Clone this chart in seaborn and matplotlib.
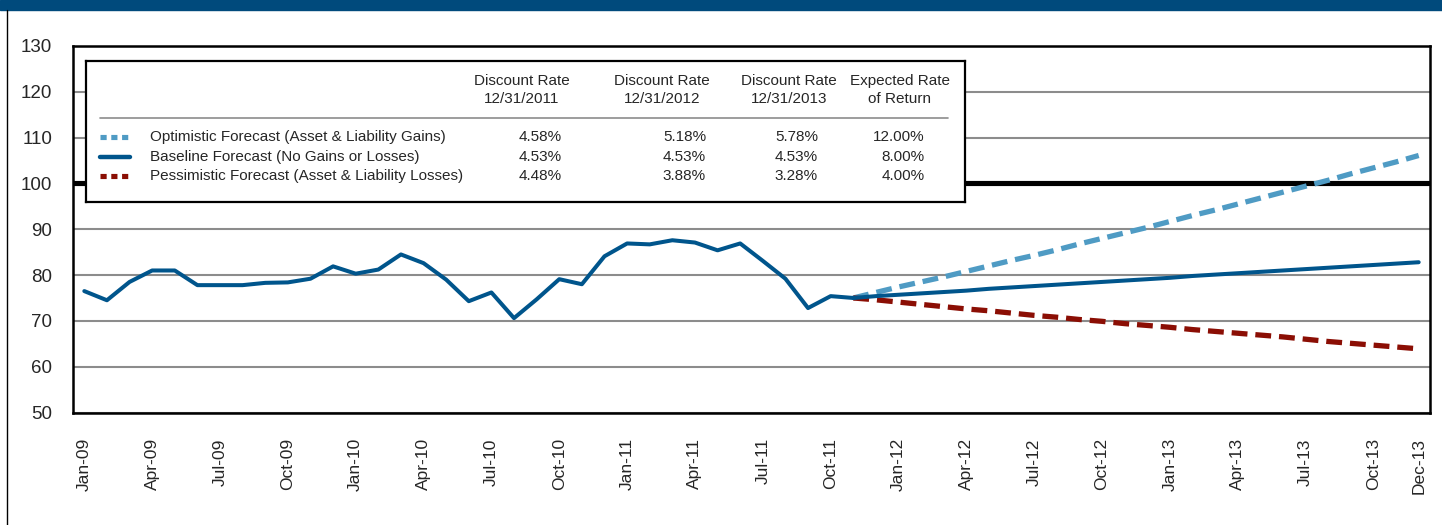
import numpy as np
import pandas as pd
import matplotlib
matplotlib.use("Agg")
import matplotlib.pyplot as plt
from matplotlib.lines import Line2D
from matplotlib.patches import Rectangle
import seaborn as sns

# ---- data ----
months = pd.date_range("2009-01-01", "2013-12-01", freq="MS")
month_labels = [m.strftime("%b-%y") for m in months]

# actual funded ratio, Jan-09 .. Nov-11
history = [76.5, 74.5, 78.5, 81.0, 81.0, 77.8, 77.8, 77.8, 78.3, 78.4, 79.2, 81.9,
           80.3, 81.2, 84.5, 82.6, 79.0, 74.3, 76.2, 70.6, 74.7, 79.1, 78.0, 84.1,
           86.9, 86.7, 87.6, 87.1, 85.4, 86.9, 83.1, 79.2, 72.8, 75.4, 75.0]

# forecasts, Nov-11 .. Dec-13
optimistic = [75.0, 76.2, 77.4, 78.5, 79.6, 80.8, 82.0, 83.2, 84.3, 85.5, 86.8, 88.0, 89.2,
              90.4, 91.7, 93.0, 94.2, 95.5, 96.8, 98.1, 99.4, 100.7, 102.1, 103.4, 104.7, 106.1]
baseline = [75.0, 75.4, 75.7, 76.0, 76.3, 76.6, 77.0, 77.3, 77.6, 77.9, 78.2, 78.5, 78.8,
            79.1, 79.4, 79.8, 80.1, 80.4, 80.7, 81.0, 81.3, 81.6, 81.9, 82.2, 82.5, 82.8]
pessimistic = [75.0, 74.6, 74.1, 73.6, 73.1, 72.6, 72.2, 71.7, 71.2, 70.8, 70.3, 69.9, 69.4,
               69.0, 68.6, 68.1, 67.7, 67.3, 66.9, 66.5, 66.0, 65.5, 65.1, 64.7, 64.3, 63.9]

tick_labels = ["Jan-09", "Apr-09", "Jul-09", "Oct-09", "Jan-10", "Apr-10", "Jul-10",
               "Oct-10", "Jan-11", "Apr-11", "Jul-11", "Oct-11", "Jan-12", "Apr-12",
               "Jul-12", "Oct-12", "Jan-13", "Apr-13", "Jul-13", "Oct-13", "Dec-13"]

series_names = ["Optimistic Forecast (Asset & Liability Gains)",
                "Baseline Forecast (No Gains or Losses)",
                "Pessimistic Forecast (Asset & Liability Losses)"]
table_headers = ["Discount Rate\n12/31/2011", "Discount Rate\n12/31/2012",
                 "Discount Rate\n12/31/2013", "Expected Rate\nof Return"]
table_values = [["4.58%", "5.18%", "5.78%", "12.00%"],
                ["4.53%", "4.53%", "4.53%", "8.00%"],
                ["4.48%", "3.88%", "3.28%", "4.00%"]]

NAVY = "#00558C"
LIGHT = "#4F9BC4"
RED = "#8B0E04"
BAR = "#004A7C"

# ---- frames ----
start = month_labels.index("Nov-11")
hist_df = pd.DataFrame({"t": np.arange(len(history)), "value": history})
fc_df = pd.concat([
    pd.DataFrame({"t": np.arange(start, start + len(vals)), "value": vals, "series": name})
    for name, vals in zip(series_names, [optimistic, baseline, pessimistic])
])

# ---- figure ----
sns.set_style("white")
plt.rcParams["font.family"] = ["Liberation Sans", "DejaVu Sans"]

W, H = 1442, 525
fig = plt.figure(figsize=(W / 100, H / 100), dpi=100)
ax = fig.add_axes([73 / W, 1 - 412.5 / H, (1430 - 73) / W, (412.5 - 46) / H])

styles = {series_names[0]: (LIGHT, 3.8, (3, 1.5)),
          series_names[2]: (RED, 3.8, (3, 1.5)),
          series_names[1]: (NAVY, 2.9, None)}
for name in [series_names[0], series_names[2], series_names[1]]:
    color, lw, dash = styles[name]
    sub = fc_df[fc_df["series"] == name]
    sns.lineplot(data=sub, x="t", y="value", color=color, linewidth=lw, ax=ax,
                 legend=False, zorder=4)
    if dash is not None:
        ax.lines[-1].set_dashes(dash)
        ax.lines[-1].set_dash_capstyle("butt")

sns.lineplot(data=hist_df, x="t", y="value", color=NAVY, linewidth=2.9, ax=ax,
             legend=False, zorder=5)

ax.set_xlim(-0.5, len(month_labels) - 0.5)
ax.set_ylim(50, 130)
ax.set_yticks(range(50, 131, 10))
ax.yaxis.grid(True, color="#8C8C8C", linewidth=1.5)
ax.set_axisbelow(True)
ax.axhline(100, color="black", linewidth=3.7, zorder=3)

tick_pos = [month_labels.index(lbl) for lbl in tick_labels]
ax.set_xticks(tick_pos)
ax.set_xticklabels(tick_labels, rotation=90)
ax.set_xlabel("")
ax.set_ylabel("")
ax.tick_params(axis="y", length=0, pad=15, labelsize=13.5)
ax.tick_params(axis="x", length=0, pad=18.5, labelsize=12.5)
for s in ax.spines.values():
    s.set_visible(True)
    s.set_color("black")
    s.set_linewidth(1.8)

# ---- legend table ----
lx0, ly0, lw_, lh = 86, 61, 879, 141
lax = fig.add_axes([lx0 / W, 1 - (ly0 + lh) / H, lw_ / W, lh / H])
lax.set_xlim(0, lw_)
lax.set_ylim(lh, 0)
lax.set_xticks([])
lax.set_yticks([])
lax.set_facecolor("white")
for s in lax.spines.values():
    s.set_visible(True)
    s.set_color("black")
    s.set_linewidth(1.6)

header_x = [436, 576, 703, 814]
value_x = [476, 620, 732, 839]
row_y = [76, 96, 115]
for hx, txt in zip(header_x, table_headers):
    lax.text(hx, 29, txt, ha="center", va="center", fontsize=11, linespacing=1.35)
lax.plot([14, 862], [57, 57], color="#8C8C8C", linewidth=1.2)

handle_styles = [(LIGHT, (1.2, 0.9)), (NAVY, None), (RED, (1.2, 0.9))]
for ry, name, vals, (color, dash) in zip(row_y, series_names, table_values, handle_styles):
    ln, = lax.plot([14, 44], [ry, ry], color=color, linewidth=3.7 if dash else 3.2,
                   solid_capstyle="round")
    if dash is not None:
        ln.set_dashes(dash)
        ln.set_dash_capstyle("butt")
    lax.text(64, ry, name, ha="left", va="center", fontsize=11)
    for vx, v in zip(value_x, vals):
        lax.text(vx, ry, v, ha="right", va="center", fontsize=11)

# ---- frame decorations ----
fig.patches.append(Rectangle((0, 1 - 10 / H), 1, 10 / H, transform=fig.transFigure,
                             color=BAR, zorder=0))
fig.add_artist(Line2D([7 / W, 7 / W], [0, 1 - 10 / H], color="black", linewidth=1.0))

fig.savefig("out.png", dpi=100)
